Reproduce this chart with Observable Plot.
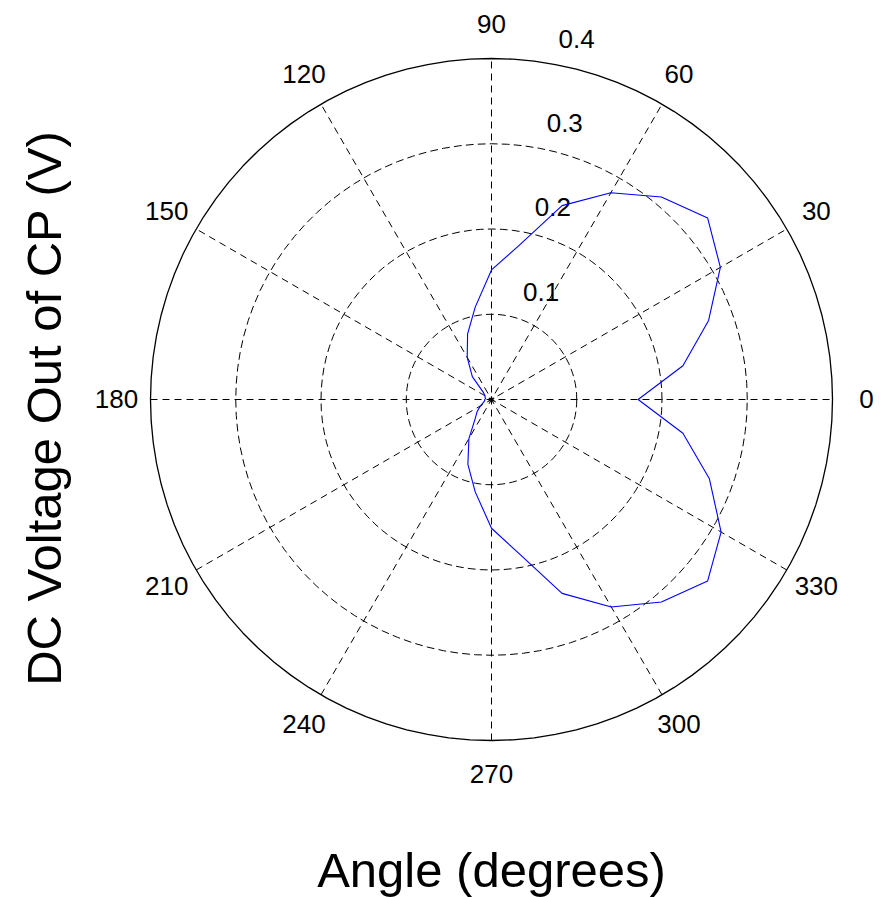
<!DOCTYPE html>
<html>
<head>
<meta charset="utf-8">
<script src="https://cdn.jsdelivr.net/npm/d3@7"></script>
<script src="https://cdn.jsdelivr.net/npm/@observablehq/plot@0.6"></script>
<style>
  html, body { margin: 0; padding: 0; background: #fff; }
  svg { display: block; }
</style>
</head>
<body>
<div id="chart"></div>
<script>
// Data: angle (degrees) and DC voltage (V)
const angles = [0,10,20,30,40,50,60,70,80,90,100,110,120,130,140,150,160,170,180,
                190,200,210,220,230,240,250,260,270,280,290,300,310,320,330,340,350,360];
const voltages = [0.172,0.228,0.271,0.310,0.331,0.310,0.280,0.242,0.183,0.152,0.110,0.082,0.057,0.035,0.012,0.009,0.008,0.007,0.008,
                  0.008,0.010,0.015,0.022,0.030,0.053,0.081,0.110,0.151,0.183,0.242,0.281,0.310,0.331,0.311,0.272,0.228,0.172];

const ringValues = [0.1, 0.2, 0.3];
const ringLabels = ["0.1", "0.2", "0.3", "0.4"];
const ringLabelValues = [0.1, 0.2, 0.3, 0.4];
const rMax = 0.4;
const spokeAngles = [0, 30, 60, 90, 120, 150];
const angleTickValues = [0, 30, 60, 90, 120, 150, 180, 210, 240, 270, 300, 330];
const angleTickLabels = ["0","30","60","90","120","150","180","210","240","270","300","330"];

const rad = d => d * Math.PI / 180;

const series = angles.map((a, i) => ({a, r: voltages[i]}));

// circle geometry samples (MATLAB-like 101-point circle)
const circleSamples = d3.range(0, 101).map(i => i * 3.6);
const rings = ringValues.flatMap(r => circleSamples.map(t => ({r, t})));
const outer = circleSamples.map(t => ({r: rMax, t}));
const spokes = spokeAngles.map(a => ({a}));
const angleTicks = angleTickValues.map((a, i) => ({a, label: angleTickLabels[i]}));
const ringTicks = ringLabelValues.map((r, i) => ({r, label: ringLabels[i]}));

const font = "'Liberation Sans', Arial, Helvetica, sans-serif";

const chart = Plot.plot({
  width: 888,
  height: 897,
  marginLeft: 150,
  marginRight: 56,
  marginTop: 58,
  marginBottom: 157,
  x: {domain: [-rMax, rMax], axis: null},
  y: {domain: [-rMax, rMax], axis: null},
  style: {fontFamily: font, background: "#fff"},
  marks: [
    // dashed rings
    Plot.line(rings, {
      x: d => d.r * Math.cos(rad(d.t)), y: d => d.r * Math.sin(rad(d.t)), z: "r",
      stroke: "#000", strokeWidth: 1, strokeDasharray: "7,5"
    }),
    // dashed spokes
    Plot.link(spokes, {
      x1: d => -rMax * Math.cos(rad(d.a)), y1: d => -rMax * Math.sin(rad(d.a)),
      x2: d => rMax * Math.cos(rad(d.a)), y2: d => rMax * Math.sin(rad(d.a)),
      stroke: "#000", strokeWidth: 1, strokeDasharray: "7,5"
    }),
    // outer circle
    Plot.line(outer, {
      x: d => d.r * Math.cos(rad(d.t)), y: d => d.r * Math.sin(rad(d.t)),
      stroke: "#000", strokeWidth: 1.3
    }),
    // angle labels
    Plot.text(angleTicks, {
      x: d => 1.1 * rMax * Math.cos(rad(d.a)), y: d => 1.1 * rMax * Math.sin(rad(d.a)),
      text: "label", fontSize: 26, fill: "#000", textAnchor: "middle", lineAnchor: "middle"
    }),
    // ring labels at 82 degrees
    Plot.text(ringTicks, {
      x: d => (d.r + 0.005) * Math.cos(rad(82)), y: d => (d.r + 0.005) * Math.sin(rad(82)),
      text: "label", fontSize: 26, fill: "#000", textAnchor: "start", lineAnchor: "bottom",
      dx: 19, dy: -10
    }),
    // data
    Plot.line(series, {
      x: d => d.r * Math.cos(rad(d.a)), y: d => d.r * Math.sin(rad(d.a)),
      stroke: "#0000ff", strokeWidth: 1.1, curve: "linear"
    }),
    // center marker
    Plot.dot([{r: 0}], {x: d => d.r, y: d => d.r, symbol: "asterisk", r: 3, stroke: "#000", strokeWidth: 1.2}),
    // axis titles
    Plot.text(["Angle (degrees)"], {
      frameAnchor: "bottom", dy: 131, text: d => d, fontSize: 49, fill: "#000",
      textAnchor: "middle", lineAnchor: "middle"
    }),
    Plot.text(["DC Voltage Out of CP (V)"], {
      frameAnchor: "left", dx: -105, dy: 9, rotate: -90, text: d => d, fontSize: 49, fill: "#000",
      textAnchor: "middle", lineAnchor: "middle"
    })
  ]
});
document.getElementById("chart").appendChild(chart);
</script>
</body>
</html>
